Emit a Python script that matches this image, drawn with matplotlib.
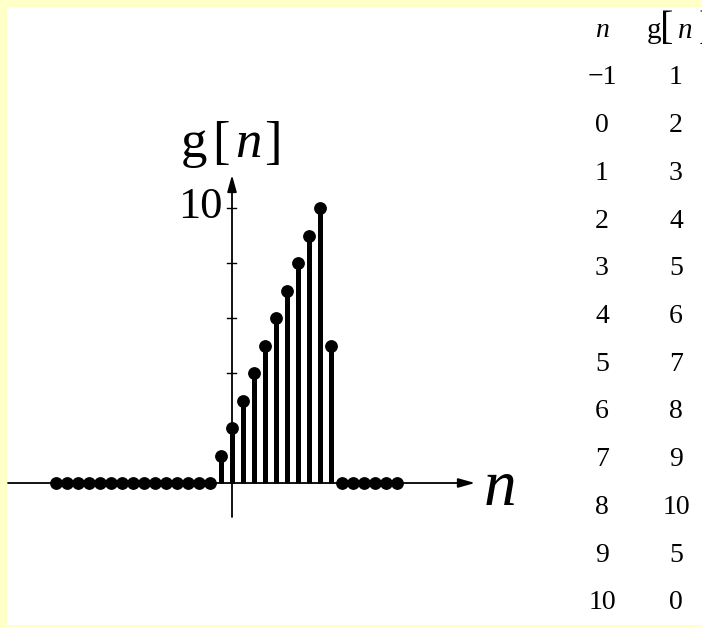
import numpy as np
import matplotlib.pyplot as plt
from matplotlib.patches import Rectangle

plt.rcParams['font.family'] = ['Liberation Serif', 'DejaVu Serif']

# Sequence g[n] ------------------------------------------------------------------------------------
n_vals = [-16, -15, -14, -13, -12, -11, -10, -9, -8, -7, -6, -5, -4, -3, -2,
          -1, 0, 1, 2, 3, 4, 5, 6, 7, 8, 9,
          10, 11, 12, 13, 14, 15]
g_vals = [0, 0, 0, 0, 0, 0, 0, 0, 0, 0, 0, 0, 0, 0, 0,
          1, 2, 3, 4, 5, 6, 7, 8, 9, 10, 5,
          0, 0, 0, 0, 0, 0]
y_ticks = [2, 4, 6, 8, 10]

# Value table shown at the right
table_n = [-1, 0, 1, 2, 3, 4, 5, 6, 7, 8, 9, 10]
table_g = [1, 2, 3, 4, 5, 6, 7, 8, 9, 10, 5, 0]

W, H = 702, 627
fig = plt.figure(figsize=(W / 100, H / 100), dpi=100, facecolor='#FFFFC8')

def fx(x):
    return x / W

def fy(y):
    return 1 - y / H

# White page area
fig.patches.append(Rectangle((fx(7), fy(625)), 1 - fx(7), fy(7) - fy(625),
                             transform=fig.transFigure, facecolor='white', edgecolor='none', zorder=-5))

# Axes: 11 px per sample, 27.5 px per unit, origin at pixel (232, 483)
x0, y0, sx, sy = 232, 483, 11.0, 27.5
left_px, right_px, top_px, bot_px = 8, 560, 100, 540
ax = fig.add_axes([fx(left_px), fy(bot_px), fx(right_px - left_px), (bot_px - top_px) / H])
ax.set_xlim((left_px - x0) / sx, (right_px - x0) / sx)
ax.set_ylim((y0 - bot_px) / sy, (y0 - top_px) / sy)
ax.axis('off')
ax.patch.set_alpha(0)

n = np.array(n_vals)
g = np.array(g_vals)

# Coordinate axes with arrows
arrow = dict(arrowstyle='-|>,head_length=0.5,head_width=0.14', lw=1.3, color='k',
             mutation_scale=20, shrinkA=0, shrinkB=0)
ax.annotate('', xy=((475 - x0) / sx, 0), xytext=((left_px - x0) / sx, 0), arrowprops=arrow, zorder=1)
ax.annotate('', xy=(0, (y0 - 175) / sy), xytext=(0, (y0 - 517) / sy), arrowprops=arrow, zorder=1)

# Tick marks on the g[n] axis
for t in y_ticks:
    ax.plot([-0.45, 0.38], [t, t], color='k', lw=1.0, zorder=1)

# Stems and dots
nz = g != 0
ax.vlines(n[nz], 0, g[nz], color='k', lw=3.6, zorder=2)
ax.plot(n, g, 'o', color='k', markersize=8.2, zorder=3)

# Labels
serif = 'Liberation Serif'
fig.text(fx(194), fy(157), 'g', fontsize=38, family=serif, ha='center', va='baseline')
fig.text(fx(221), fy(145), '[', fontsize=38, family=serif, ha='center', va='center')
fig.text(fx(248), fy(157), 'n', fontsize=38, family=serif, style='italic', ha='center', va='baseline')
fig.text(fx(273), fy(145), ']', fontsize=38, family=serif, ha='center', va='center')
fig.text(fx(223), fy(207), '10', fontsize=32, family=serif, ha='right', va='center')
fig.text(fx(484), fy(505), 'n', fontsize=47, family=serif, style='italic', ha='left', va='baseline')

# Table
col_n, col_g = 602, 676
fig.text(fx(col_n), fy(37), 'n', fontsize=20, family=serif, style='italic', ha='center', va='baseline')
fig.text(fx(654), fy(38), 'g', fontsize=21, family=serif, ha='center', va='baseline')
fig.text(fx(667), fy(30), '[', fontsize=29, family=serif, ha='center', va='center')
fig.text(fx(685), fy(38), 'n', fontsize=21, family=serif, style='italic', ha='center', va='baseline')
fig.text(fx(699), fy(30), ']', fontsize=29, family=serif, ha='left', va='center')
for i, (tn, tg) in enumerate(zip(table_n, table_g)):
    y = 78 + 47.7 * i
    fig.text(fx(col_n), fy(y), str(tn).replace('-', '\u2212'), fontsize=20, family=serif,
             ha='center', va='center')
    fig.text(fx(col_g), fy(y), str(tg), fontsize=20, family=serif, ha='center', va='center')

fig.savefig('out.png', dpi=100, facecolor=fig.get_facecolor())
